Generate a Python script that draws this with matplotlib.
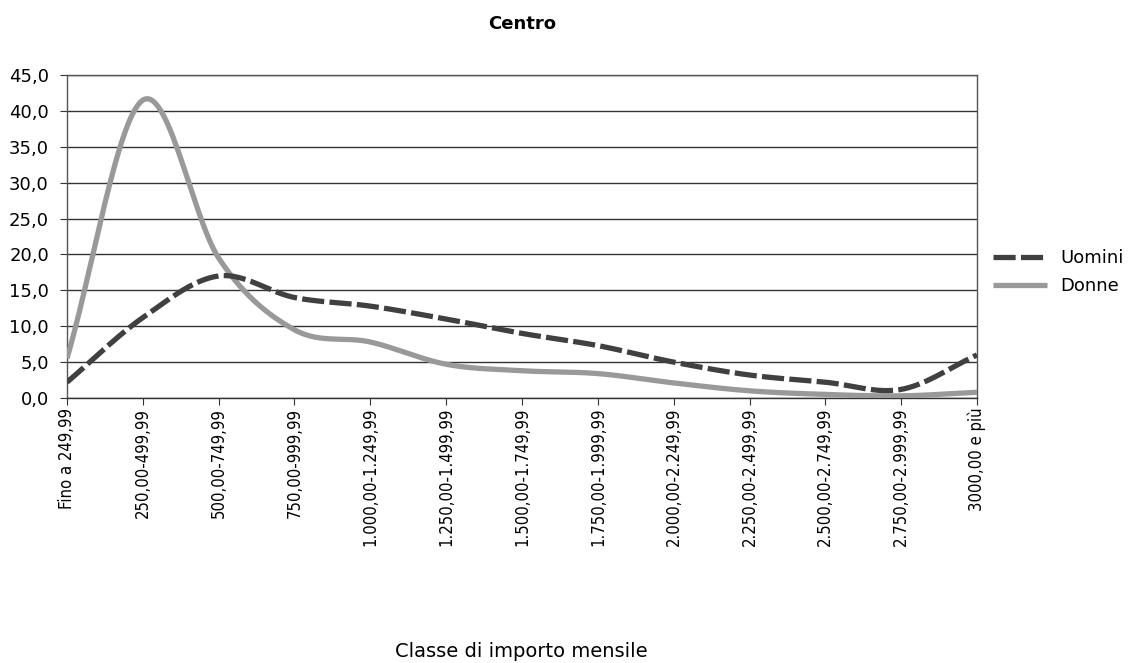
import matplotlib
matplotlib.use("Agg")
import matplotlib.pyplot as plt
import numpy as np

classi = ["Fino a 249,99", "250,00-499,99", "500,00-749,99", "750,00-999,99",
          "1.000,00-1.249,99", "1.250,00-1.499,99", "1.500,00-1.749,99",
          "1.750,00-1.999,99", "2.000,00-2.249,99", "2.250,00-2.499,99",
          "2.500,00-2.749,99", "2.750,00-2.999,99", "3000,00 e più"]
uomini = [2.2, 11.2, 17.0, 14.0, 12.8, 11.0, 9.0, 7.3, 5.0, 3.2, 2.2, 1.2, 6.0]
donne = [5.5, 41.5, 19.5, 9.5, 7.8, 4.7, 3.8, 3.4, 2.1, 1.0, 0.5, 0.3, 0.8]
y_ticks = [0, 5, 10, 15, 20, 25, 30, 35, 40, 45]


def liscia(x, y, n=30):
    # curva tipo "linea smussata" di Excel (Catmull-Rom)
    x = np.asarray(x, float)
    y = np.asarray(y, float)
    px = np.concatenate([[2 * x[0] - x[1]], x, [2 * x[-1] - x[-2]]])
    py = np.concatenate([[2 * y[0] - y[1]], y, [2 * y[-1] - y[-2]]])
    t = np.linspace(0, 1, n, endpoint=False)
    xs, ys = [], []
    for i in range(1, len(px) - 2):
        for p, out in ((px, xs), (py, ys)):
            p0, p1, p2, p3 = p[i - 1], p[i], p[i + 1], p[i + 2]
            out.extend(0.5 * (2 * p1 + (-p0 + p2) * t + (2 * p0 - 5 * p1 + 4 * p2 - p3) * t ** 2
                              + (-p0 + 3 * p1 - 3 * p2 + p3) * t ** 3))
    xs.append(x[-1])
    ys.append(y[-1])
    return np.array(xs), np.array(ys)


plt.rcParams['font.family'] = ['DejaVu Sans']
fig = plt.figure(figsize=(11.43, 6.63), dpi=100)
ax = fig.add_axes([0.0586, 0.3997, 0.7962, 0.4872])

x = np.arange(len(classi))
xu, yu = liscia(x, uomini)
xd, yd = liscia(x, donne)
ax.plot(xd, yd, color="#999999", lw=3.8, solid_capstyle="butt", label="Donne", zorder=3)
ax.plot(xu, yu, color="#404040", lw=3.8, dashes=(4.2, 1.0), label="Uomini", zorder=4)

ax.set_xlim(0, len(classi) - 1)
ax.set_ylim(0, 45)
ax.set_yticks(y_ticks)
ax.set_yticklabels([f"{v:.1f}".replace(".", ",") for v in y_ticks], fontsize=13)
ax.set_xticks(x)
ax.set_xticklabels(classi, rotation=90, fontsize=12, stretch="condensed", va="top")
ax.yaxis.grid(True, color="#333333", lw=1)
ax.set_axisbelow(True)
for s in ax.spines.values():
    s.set_color("#555555")
    s.set_linewidth(1)
ax.spines["bottom"].set_color("#333333")
ax.tick_params(axis="both", length=5, color="#333333", pad=2)
ax.tick_params(axis="y", pad=8)

ax.set_title("Centro", fontsize=13, fontweight="bold", pad=33)
fig.text(0.456, 0.003, "Classe di importo mensile", fontsize=14, ha="center", va="bottom")

h, l = ax.get_legend_handles_labels()
ax.legend(h[::-1], l[::-1], loc="center left", bbox_to_anchor=(1.0, 0.39), frameon=False,
          fontsize=13, handlelength=3.0, handletextpad=0.7, labelspacing=0.55)

fig.savefig("out.png", dpi=100)
